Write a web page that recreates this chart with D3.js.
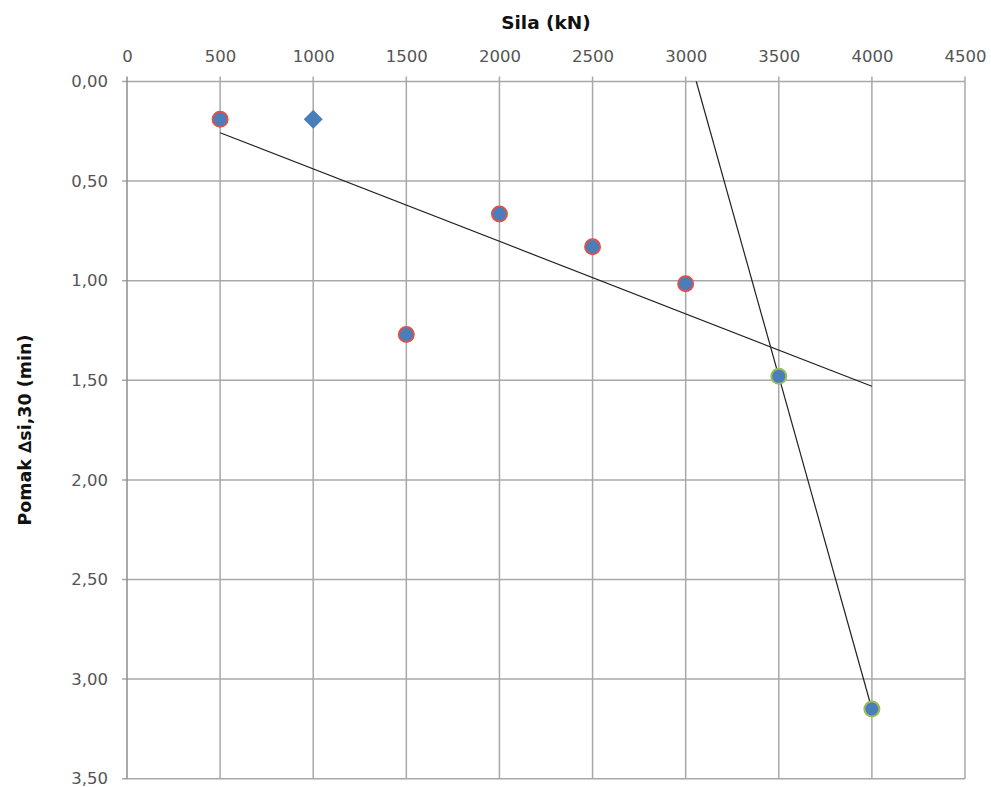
<!DOCTYPE html>
<html>
<head>
<meta charset="utf-8">
<script src="https://cdn.jsdelivr.net/npm/d3@7/dist/d3.min.js"></script>
<style>
  html, body { margin: 0; padding: 0; background: #fff; }
  svg { display: block; }
  text { font-family: "DejaVu Sans", sans-serif; }
</style>
</head>
<body>
<svg id="chart" width="991" height="787"></svg>
<script>
// ---- data ----
const xTicks = [0, 500, 1000, 1500, 2000, 2500, 3000, 3500, 4000, 4500];
const yTicks = [0, 0.5, 1.0, 1.5, 2.0, 2.5, 3.0, 3.5];
const yTickLabels = ["0,00", "0,50", "1,00", "1,50", "2,00", "2,50", "3,00", "3,50"];

const redForce = [500, 1500, 2000, 2500, 3000];
const redDisp  = [0.19, 1.27, 0.665, 0.83, 1.015];

const diamondForce = [1000];
const diamondDisp  = [0.19];

const greenForce = [3500, 4000];
const greenDisp  = [1.48, 3.15];

const trend1Force = [500, 4000];
const trend1Disp  = [0.257, 1.53];

const trend2Force = [3057, 4000];
const trend2Disp  = [0.0, 3.15];

const xTitle = "Sila (kN)";
const yTitle = "Pomak \u2206si,30 (min)";

// ---- chart ----
(function () {
const svg = d3.select("#chart");
const pL = 127, pR = 965, pT = 81.5, pB = 778.7;
const x = d3.scaleLinear().domain([0, 4500]).range([pL, pR]);
const y = d3.scaleLinear().domain([0, 3.5]).range([pT, pB]);

const gridColor = "#a8a8a8";
const font = "'DejaVu Sans', sans-serif";

// horizontal gridlines
svg.append("g").selectAll("line").data(yTicks).join("line")
  .attr("x1", pL - 5).attr("x2", pR)
  .attr("y1", d => y(d)).attr("y2", d => y(d))
  .attr("stroke", gridColor).attr("stroke-width", 1.5);

// vertical gridlines
svg.append("g").selectAll("line").data(xTicks).join("line")
  .attr("x1", d => x(d)).attr("x2", d => x(d))
  .attr("y1", pT - 5).attr("y2", pB)
  .attr("stroke", d => d === 0 ? "#8c8c8c" : gridColor).attr("stroke-width", 1.5);

// top axis labels
const xAxis = d3.axisTop(x).tickValues(xTicks).tickSize(0).tickPadding(0).tickFormat(d3.format("d"));
const gx = svg.append("g").attr("transform", `translate(0,${pT - 20})`).call(xAxis);
gx.select(".domain").remove();
gx.selectAll("text").attr("font-size", 16.5).attr("fill", "#555")
  .attr("font-family", font);

// left axis labels
const yAxis = d3.axisLeft(y).tickValues(yTicks).tickSize(0).tickPadding(0)
  .tickFormat((d, i) => yTickLabels[i]);
const gy = svg.append("g").attr("transform", `translate(${pL - 19},0)`).call(yAxis);
gy.select(".domain").remove();
gy.selectAll("text").attr("font-size", 16.5).attr("fill", "#555")
  .attr("font-family", font);

// titles
svg.append("text").attr("x", (pL + pR) / 2).attr("y", 29)
  .attr("text-anchor", "middle").attr("font-size", 18.5).attr("font-weight", "bold")
  .attr("font-family", font).attr("fill", "#111").text(xTitle);
svg.append("text")
  .attr("transform", `translate(31,${(pT + pB) / 2}) rotate(-90)`)
  .attr("text-anchor", "middle").attr("font-size", 17.5).attr("font-weight", "bold")
  .attr("font-family", font).attr("fill", "#111").text(yTitle);

// trend lines
const line = d3.line().x(d => x(d[0])).y(d => y(d[1]));
svg.append("path").datum(d3.zip(trend1Force, trend1Disp)).attr("d", line)
  .attr("fill", "none").attr("stroke", "#222").attr("stroke-width", 1.2);
svg.append("path").datum(d3.zip(trend2Force, trend2Disp)).attr("d", line)
  .attr("fill", "none").attr("stroke", "#222").attr("stroke-width", 1.2);

const blue = "#4a7ebb";
// red outlined circles
svg.append("g").selectAll("circle").data(d3.zip(redForce, redDisp)).join("circle")
  .attr("cx", d => x(d[0])).attr("cy", d => y(d[1])).attr("r", 7.5)
  .attr("fill", blue).attr("stroke", "#d9534f").attr("stroke-width", 2);

// green outlined circles
svg.append("g").selectAll("circle").data(d3.zip(greenForce, greenDisp)).join("circle")
  .attr("cx", d => x(d[0])).attr("cy", d => y(d[1])).attr("r", 7.5)
  .attr("fill", blue).attr("stroke", "#9bbb59").attr("stroke-width", 2);

// diamond
svg.append("g").selectAll("path").data(d3.zip(diamondForce, diamondDisp)).join("path")
  .attr("transform", d => `translate(${x(d[0])},${y(d[1])})`)
  .attr("d", "M0,-9.5 L9.5,0 L0,9.5 L-9.5,0 Z")
  .attr("fill", blue);
})();
</script>
</body>
</html>
